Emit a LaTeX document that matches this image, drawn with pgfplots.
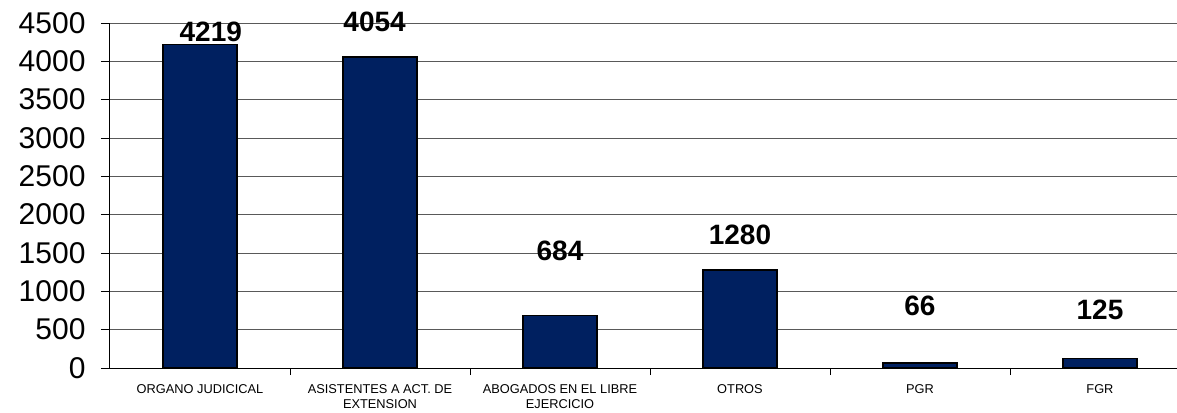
\documentclass[border=0pt]{standalone}
\usepackage{fontspec}
\setmainfont{Liberation Sans}
\usepackage{pgfplots}
\pgfplotsset{compat=1.18}
\definecolor{barnavy}{RGB}{0,32,96}
\begin{document}
\begin{tikzpicture}
\path[use as bounding box] (-110pt,-44pt) rectangle (1067pt,368pt);
\begin{axis}[
  at={(0,0)}, anchor=south west,
  scale only axis,
  width=1080pt, height=345pt,
  xmin=-0.5, xmax=5.5,
  ymin=0, ymax=4500,
  ytick={0,500,...,4500},
  xtick={0,...,5},
  xticklabels={ORGANO JUDICICAL,{ASISTENTES A ACT. DE\\EXTENSION},{ABOGADOS EN EL LIBRE\\EJERCICIO},OTROS,PGR,FGR},
  x tick label style={font=\fontsize{12.8}{15}\selectfont, align=center, anchor=north, yshift=-4pt},
  y tick label style={font=\fontsize{30}{32}\selectfont, xshift=-12pt},
  /pgf/number format/assume math mode=true,
  /pgf/number format/1000 sep={},
  major x tick style={draw=none},
  minor xtick={0.5,1.5,...,4.5},
  minor tick length=7pt,
  major tick length=9pt,
  tick align=outside,
  axis x line*=bottom,
  axis y line*=left,
  axis line style={black, line width=1pt},
  every tick/.style={black, line width=0.7pt},
  ymajorgrids,
  grid style={black!65, line width=0.9pt},
  clip=false,
]
\addplot[ybar, bar width=74pt, fill=barnavy, draw=black, line width=1.4pt]
  coordinates {(0,4219) (1,4054) (2,684) (3,1280) (4,66) (5,125)};
\addplot[only marks, mark=none, nodes near coords, point meta=explicit symbolic,
  every node near coord/.style={anchor=center, font=\fontsize{28}{30}\selectfont\bfseries, inner sep=0pt}]
  coordinates {(0.06,4383)[4219] (0.97,4513)[4054] (2,1526)[684] (3,1735)[1280] (4,809)[66] (5,757)[125]};
\end{axis}
\end{tikzpicture}
\end{document}
